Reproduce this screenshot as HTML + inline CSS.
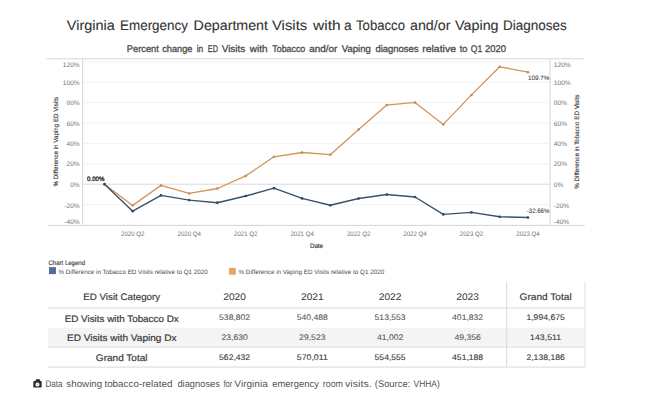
<!DOCTYPE html>
<html><head><meta charset="utf-8">
<style>
html,body{margin:0;padding:0;background:#fff;}
body{width:650px;height:404px;overflow:hidden;position:relative;font-family:"Liberation Sans",Arial,sans-serif;}
svg{position:absolute;left:0;top:0;}
text{font-family:"Liberation Sans",Arial,sans-serif;text-rendering:geometricPrecision;}
.ax{font-size:6.6px;fill:#737373;}
.at{font-size:6.4px;fill:#2a2a2a;stroke:#2a2a2a;stroke-width:0.1px;}
.dt{font-size:6.6px;fill:#333;stroke:#333;stroke-width:0.15px;}
.dl{font-size:6.4px;fill:#222;stroke:#222;stroke-width:0.3px;}
.dl2{font-size:6.3px;fill:#3a3a3a;stroke:#3a3a3a;stroke-width:0.06px;}
.lt{font-size:6.4px;fill:#444;stroke:#444;stroke-width:0.15px;}
.lg{font-size:6.3px;fill:#4a4a4a;}
.title{font-size:13.8px;fill:#333;stroke:#333;stroke-width:0.1px;}
.sub{font-size:9.7px;fill:#4a4a4a;stroke:#4a4a4a;stroke-width:0.3px;}
.ty{font-size:9.6px;fill:#333;}
.th{font-size:9.5px;fill:#383838;stroke:#383838;stroke-width:0.16px;}
.tc{font-size:9.5px;fill:#383838;stroke:#383838;stroke-width:0.2px;}
.tn{font-size:8.1px;fill:#555;stroke:#555;stroke-width:0.08px;}
.tg{font-size:8.1px;fill:#3a3a3a;stroke:#3a3a3a;stroke-width:0.1px;}
.cap{font-size:9.6px;fill:#555;}
</style></head><body>
<svg width="650" height="404" viewBox="0 0 650 404">
<text y="29.7" class="title"><tspan x="66.8" textLength="48.02" lengthAdjust="spacingAndGlyphs">Virginia</tspan> <tspan x="120.0" textLength="68.0" lengthAdjust="spacingAndGlyphs">Emergency</tspan> <tspan x="193.6" textLength="74.41" lengthAdjust="spacingAndGlyphs">Department</tspan> <tspan x="271.98" textLength="35.23" lengthAdjust="spacingAndGlyphs">Visits</tspan> <tspan x="313.0" textLength="27.61" lengthAdjust="spacingAndGlyphs">with</tspan> <tspan x="343.9">a</tspan> <tspan x="356.0" textLength="49.0" lengthAdjust="spacingAndGlyphs">Tobacco</tspan> <tspan x="410.0" textLength="40.41" lengthAdjust="spacingAndGlyphs">and/or</tspan> <tspan x="455.0" textLength="43.6" lengthAdjust="spacingAndGlyphs">Vaping</tspan> <tspan x="502.99" textLength="63.82" lengthAdjust="spacingAndGlyphs">Diagnoses</tspan></text>
<text y="51.5" class="sub"><tspan x="126.79" textLength="32.03" lengthAdjust="spacingAndGlyphs">Percent</tspan> <tspan x="162.18" textLength="30.24" lengthAdjust="spacingAndGlyphs">change</tspan> <tspan x="196.74" textLength="6.52" lengthAdjust="spacingAndGlyphs">in</tspan> <tspan x="207.78" textLength="10.22" lengthAdjust="spacingAndGlyphs">ED</tspan> <tspan x="221.78" textLength="23.44" lengthAdjust="spacingAndGlyphs">Visits</tspan> <tspan x="249.79" textLength="17.68" lengthAdjust="spacingAndGlyphs">with</tspan> <tspan x="272.37" textLength="32.85" lengthAdjust="spacingAndGlyphs">Tobacco</tspan> <tspan x="309.19" textLength="28.24" lengthAdjust="spacingAndGlyphs">and/or</tspan> <tspan x="341.79" textLength="29.03" lengthAdjust="spacingAndGlyphs">Vaping</tspan> <tspan x="375.38" textLength="43.23" lengthAdjust="spacingAndGlyphs">diagnoses</tspan> <tspan x="422.19" textLength="33.82" lengthAdjust="spacingAndGlyphs">relative</tspan> <tspan x="459.65" textLength="7.62" lengthAdjust="spacingAndGlyphs">to</tspan> <tspan x="470.74" textLength="11.51" lengthAdjust="spacingAndGlyphs">Q1</tspan> <tspan x="485.0" textLength="21.04" lengthAdjust="spacingAndGlyphs">2020</tspan></text>
<line x1="83" x2="550" y1="61.8" y2="61.8" stroke="#f2f2f2" stroke-width="1"/>
<line x1="83" x2="550" y1="82.2" y2="82.2" stroke="#f2f2f2" stroke-width="1"/>
<line x1="83" x2="550" y1="102.6" y2="102.6" stroke="#f2f2f2" stroke-width="1"/>
<line x1="83" x2="550" y1="123.0" y2="123.0" stroke="#f2f2f2" stroke-width="1"/>
<line x1="83" x2="550" y1="143.4" y2="143.4" stroke="#f2f2f2" stroke-width="1"/>
<line x1="83" x2="550" y1="163.8" y2="163.8" stroke="#f2f2f2" stroke-width="1"/>
<line x1="83" x2="550" y1="204.6" y2="204.6" stroke="#f2f2f2" stroke-width="1"/>
<line x1="83" x2="550" y1="225.0" y2="225.0" stroke="#f2f2f2" stroke-width="1"/>
<line x1="83" x2="550" y1="184.2" y2="184.2" stroke="#d4d4d4" stroke-width="0.9"/>
<line x1="46.2" x2="584.6" y1="58.7" y2="58.7" stroke="#d9d9d9" stroke-width="1.1"/>
<line x1="82.6" x2="82.6" y1="58.6" y2="225.5" stroke="#d9d9d9" stroke-width="1.1"/>
<line x1="550" x2="550" y1="58.6" y2="225.5" stroke="#d9d9d9" stroke-width="1.1"/>
<line x1="47.9" x2="584.8" y1="225.5" y2="225.5" stroke="#d9d9d9" stroke-width="1.1"/>
<text x="79.7" y="66.9" class="ax" text-anchor="end">120%</text>
<text x="553.8" y="66.9" class="ax">120%</text>
<text x="79.7" y="84.8" class="ax" text-anchor="end">100%</text>
<text x="553.8" y="84.8" class="ax">100%</text>
<text x="79.7" y="105.2" class="ax" text-anchor="end">80%</text>
<text x="553.8" y="105.2" class="ax">80%</text>
<text x="79.7" y="125.6" class="ax" text-anchor="end">60%</text>
<text x="553.8" y="125.6" class="ax">60%</text>
<text x="79.7" y="146.0" class="ax" text-anchor="end">40%</text>
<text x="553.8" y="146.0" class="ax">40%</text>
<text x="79.7" y="166.4" class="ax" text-anchor="end">20%</text>
<text x="553.8" y="166.4" class="ax">20%</text>
<text x="79.7" y="187.2" class="ax" text-anchor="end">0%</text>
<text x="553.8" y="187.2" class="ax">0%</text>
<text x="79.7" y="207.7" class="ax" text-anchor="end">-20%</text>
<text x="553.8" y="207.7" class="ax">-20%</text>
<text x="79.7" y="223.9" class="ax" text-anchor="end">-40%</text>
<text x="553.8" y="223.9" class="ax">-40%</text>
<text transform="translate(58.2,141.75) rotate(-90)" text-anchor="middle" class="at" textLength="89.5" lengthAdjust="spacingAndGlyphs">% Difference in Vaping ED Visits</text>
<text transform="translate(578.9,141.65) rotate(-90)" text-anchor="middle" class="at" textLength="94.3" lengthAdjust="spacingAndGlyphs">% Difference in Tobacco ED Visits</text>
<text x="132.7" y="236.4" class="ax" text-anchor="middle" textLength="23.4" lengthAdjust="spacingAndGlyphs">2020 Q2</text>
<text x="189.2" y="236.4" class="ax" text-anchor="middle" textLength="23.4" lengthAdjust="spacingAndGlyphs">2020 Q4</text>
<text x="245.7" y="236.4" class="ax" text-anchor="middle" textLength="23.4" lengthAdjust="spacingAndGlyphs">2021 Q2</text>
<text x="302.1" y="236.4" class="ax" text-anchor="middle" textLength="23.4" lengthAdjust="spacingAndGlyphs">2021 Q4</text>
<text x="358.6" y="236.4" class="ax" text-anchor="middle" textLength="23.4" lengthAdjust="spacingAndGlyphs">2022 Q2</text>
<text x="415.0" y="236.4" class="ax" text-anchor="middle" textLength="23.4" lengthAdjust="spacingAndGlyphs">2022 Q4</text>
<text x="471.5" y="236.4" class="ax" text-anchor="middle" textLength="23.4" lengthAdjust="spacingAndGlyphs">2023 Q2</text>
<text x="528.0" y="236.4" class="ax" text-anchor="middle" textLength="23.4" lengthAdjust="spacingAndGlyphs">2023 Q4</text>
<text x="316.5" y="248.1" class="dt" text-anchor="middle" textLength="13.2" lengthAdjust="spacingAndGlyphs">Date</text>
<polyline points="104.5,184.2 132.7,205.4 161.0,185.4 189.2,193.4 217.4,188.5 245.7,175.9 273.9,156.8 302.1,152.5 330.3,154.7 358.6,129.4 386.8,105.1 415.0,102.4 443.3,124.4 471.5,94.9 499.7,66.8 528.0,72.2" fill="none" stroke="#cf955a" stroke-width="1.3" stroke-linejoin="round"/>
<polyline points="104.5,184.2 132.7,211.2 161.0,195.4 189.2,200.1 217.4,202.7 245.7,196.0 273.9,188.2 302.1,198.4 330.3,205.3 358.6,198.5 386.8,194.5 415.0,197.0 443.3,214.4 471.5,212.4 499.7,216.8 528.0,217.5" fill="none" stroke="#3b5169" stroke-width="1.4" stroke-linejoin="round"/>
<circle cx="104.5" cy="184.2" r="1.25" fill="#c58a48"/>
<circle cx="132.7" cy="205.4" r="1.25" fill="#c58a48"/>
<circle cx="161.0" cy="185.4" r="1.25" fill="#c58a48"/>
<circle cx="189.2" cy="193.4" r="1.25" fill="#c58a48"/>
<circle cx="217.4" cy="188.5" r="1.25" fill="#c58a48"/>
<circle cx="245.7" cy="175.9" r="1.25" fill="#c58a48"/>
<circle cx="273.9" cy="156.8" r="1.25" fill="#c58a48"/>
<circle cx="302.1" cy="152.5" r="1.25" fill="#c58a48"/>
<circle cx="330.3" cy="154.7" r="1.25" fill="#c58a48"/>
<circle cx="358.6" cy="129.4" r="1.25" fill="#c58a48"/>
<circle cx="386.8" cy="105.1" r="1.25" fill="#c58a48"/>
<circle cx="415.0" cy="102.4" r="1.25" fill="#c58a48"/>
<circle cx="443.3" cy="124.4" r="1.25" fill="#c58a48"/>
<circle cx="471.5" cy="94.9" r="1.25" fill="#c58a48"/>
<circle cx="499.7" cy="66.8" r="1.25" fill="#c58a48"/>
<circle cx="528.0" cy="72.2" r="1.25" fill="#c58a48"/>
<circle cx="104.5" cy="184.2" r="1.35" fill="#34495e"/>
<circle cx="132.7" cy="211.2" r="1.35" fill="#34495e"/>
<circle cx="161.0" cy="195.4" r="1.35" fill="#34495e"/>
<circle cx="189.2" cy="200.1" r="1.35" fill="#34495e"/>
<circle cx="217.4" cy="202.7" r="1.35" fill="#34495e"/>
<circle cx="245.7" cy="196.0" r="1.35" fill="#34495e"/>
<circle cx="273.9" cy="188.2" r="1.35" fill="#34495e"/>
<circle cx="302.1" cy="198.4" r="1.35" fill="#34495e"/>
<circle cx="330.3" cy="205.3" r="1.35" fill="#34495e"/>
<circle cx="358.6" cy="198.5" r="1.35" fill="#34495e"/>
<circle cx="386.8" cy="194.5" r="1.35" fill="#34495e"/>
<circle cx="415.0" cy="197.0" r="1.35" fill="#34495e"/>
<circle cx="443.3" cy="214.4" r="1.35" fill="#34495e"/>
<circle cx="471.5" cy="212.4" r="1.35" fill="#34495e"/>
<circle cx="499.7" cy="216.8" r="1.35" fill="#34495e"/>
<circle cx="528.0" cy="217.5" r="1.35" fill="#34495e"/>
<text x="87.1" y="180.8" class="dl" textLength="17.4" lengthAdjust="spacingAndGlyphs">0.00%</text>
<text x="528" y="80.1" class="dl2" textLength="21.4" lengthAdjust="spacingAndGlyphs">109.7%</text>
<text x="526.8" y="213.4" class="dl2" textLength="22.6" lengthAdjust="spacingAndGlyphs">-32.66%</text>
<text x="48.5" y="265.1" class="lt" textLength="36.5" lengthAdjust="spacingAndGlyphs">Chart Legend</text>
<rect x="49.4" y="267.6" width="6.2" height="6.2" fill="#4f6f96" stroke="#34507a" stroke-width="0.6"/>
<text x="58.5" y="273.6" class="lg" textLength="149.2" lengthAdjust="spacingAndGlyphs">% Difference in Tobacco ED Visits relative to Q1 2020</text>
<rect x="229.4" y="268.2" width="6" height="6" fill="#eaa562" stroke="#dc9450" stroke-width="0.6"/>
<text x="238.5" y="273.6" class="lg" textLength="145.7" lengthAdjust="spacingAndGlyphs">% Difference in Vaping ED Visits relative to Q1 2020</text>
<rect x="48" y="327.8" width="536.8" height="18.6" fill="#f4f4f4"/>
<line x1="48" x2="585" y1="308.1" y2="308.1" stroke="#e0e0e0" stroke-width="1.1"/>
<line x1="48" x2="585" y1="347.1" y2="347.1" stroke="#e0e0e0" stroke-width="1.1"/>
<line x1="48" x2="585" y1="367.1" y2="367.1" stroke="#e0e0e0" stroke-width="1.1"/>
<line x1="506.7" x2="506.7" y1="281.5" y2="367" stroke="#dcdcdc" stroke-width="1.1"/>
<line x1="584.9" x2="584.9" y1="281.5" y2="367" stroke="#e4e4e4" stroke-width="1.1"/>
<text x="121.7" y="300.1" class="th" text-anchor="middle" textLength="77" lengthAdjust="spacingAndGlyphs">ED Visit Category</text>
<text x="234.6" y="299.9" class="ty" text-anchor="middle" textLength="22.6" lengthAdjust="spacingAndGlyphs">2020</text>
<text x="312.3" y="299.9" class="ty" text-anchor="middle" textLength="22.6" lengthAdjust="spacingAndGlyphs">2021</text>
<text x="390.1" y="299.9" class="ty" text-anchor="middle" textLength="22.6" lengthAdjust="spacingAndGlyphs">2022</text>
<text x="467.6" y="299.9" class="ty" text-anchor="middle" textLength="22.6" lengthAdjust="spacingAndGlyphs">2023</text>
<text x="545.6" y="300.1" class="th" text-anchor="middle" textLength="52.1" lengthAdjust="spacingAndGlyphs">Grand Total</text>
<text x="121.7" y="321.5" class="tc" text-anchor="middle" textLength="114" lengthAdjust="spacingAndGlyphs">ED Visits with Tobacco Dx</text>
<text x="234.6" y="319.8" class="tn" text-anchor="middle" textLength="31.0" lengthAdjust="spacingAndGlyphs">538,802</text>
<text x="312.3" y="319.8" class="tn" text-anchor="middle" textLength="31.0" lengthAdjust="spacingAndGlyphs">540,488</text>
<text x="390.1" y="319.8" class="tn" text-anchor="middle" textLength="31.0" lengthAdjust="spacingAndGlyphs">513,553</text>
<text x="467.6" y="319.8" class="tn" text-anchor="middle" textLength="31.0" lengthAdjust="spacingAndGlyphs">401,832</text>
<text x="545.6" y="319.8" class="tg" text-anchor="middle" textLength="38.4" lengthAdjust="spacingAndGlyphs">1,994,675</text>
<text x="121.7" y="341.4" class="tc" text-anchor="middle" textLength="109.5" lengthAdjust="spacingAndGlyphs">ED Visits with Vaping Dx</text>
<text x="234.6" y="339.8" class="tn" text-anchor="middle" textLength="26.4" lengthAdjust="spacingAndGlyphs">23,630</text>
<text x="312.3" y="339.8" class="tn" text-anchor="middle" textLength="26.4" lengthAdjust="spacingAndGlyphs">29,523</text>
<text x="390.1" y="339.8" class="tn" text-anchor="middle" textLength="26.4" lengthAdjust="spacingAndGlyphs">41,002</text>
<text x="467.6" y="339.8" class="tn" text-anchor="middle" textLength="26.4" lengthAdjust="spacingAndGlyphs">49,356</text>
<text x="545.6" y="339.8" class="tg" text-anchor="middle" textLength="31.0" lengthAdjust="spacingAndGlyphs">143,511</text>
<text x="121.7" y="361.4" class="tc" text-anchor="middle" textLength="51.7" lengthAdjust="spacingAndGlyphs">Grand Total</text>
<text x="234.6" y="359.8" class="tg" text-anchor="middle" textLength="31.0" lengthAdjust="spacingAndGlyphs">562,432</text>
<text x="312.3" y="359.8" class="tg" text-anchor="middle" textLength="31.0" lengthAdjust="spacingAndGlyphs">570,011</text>
<text x="390.1" y="359.8" class="tg" text-anchor="middle" textLength="31.0" lengthAdjust="spacingAndGlyphs">554,555</text>
<text x="467.6" y="359.8" class="tg" text-anchor="middle" textLength="31.0" lengthAdjust="spacingAndGlyphs">451,188</text>
<text x="545.6" y="359.8" class="tg" text-anchor="middle" textLength="38.4" lengthAdjust="spacingAndGlyphs">2,138,186</text>
<g fill="#2e2e2e">
<rect x="33.3" y="381.1" width="8.4" height="6.5" rx="0.9"/>
<polygon points="35.2,381.4 36.1,379.3 39.7,379.3 40.6,381.4"/>
<circle cx="37.45" cy="384.4" r="2" fill="#fff"/>
<circle cx="37.45" cy="384.4" r="0.9" fill="#bbb"/>
</g>
<text y="387.4" class="cap"><tspan x="45.39" textLength="17.05" lengthAdjust="spacingAndGlyphs">Data</tspan> <tspan x="66.38" textLength="35.84" lengthAdjust="spacingAndGlyphs">showing</tspan> <tspan x="104.4" textLength="68.0" lengthAdjust="spacingAndGlyphs">tobacco-related</tspan> <tspan x="177.38" textLength="42.62" lengthAdjust="spacingAndGlyphs">diagnoses</tspan> <tspan x="223.4" textLength="8.84" lengthAdjust="spacingAndGlyphs">for</tspan> <tspan x="234.39" textLength="33.41" lengthAdjust="spacingAndGlyphs">Virginia</tspan> <tspan x="272.2" textLength="46.81" lengthAdjust="spacingAndGlyphs">emergency</tspan> <tspan x="322.78" textLength="20.24" lengthAdjust="spacingAndGlyphs">room</tspan> <tspan x="345.0" textLength="26.8" lengthAdjust="spacingAndGlyphs">visits.</tspan> <tspan x="374.8" textLength="35.4" lengthAdjust="spacingAndGlyphs">(Source:</tspan> <tspan x="413.56" textLength="26.27" lengthAdjust="spacingAndGlyphs">VHHA)</tspan></text>
</svg>
</body></html>
